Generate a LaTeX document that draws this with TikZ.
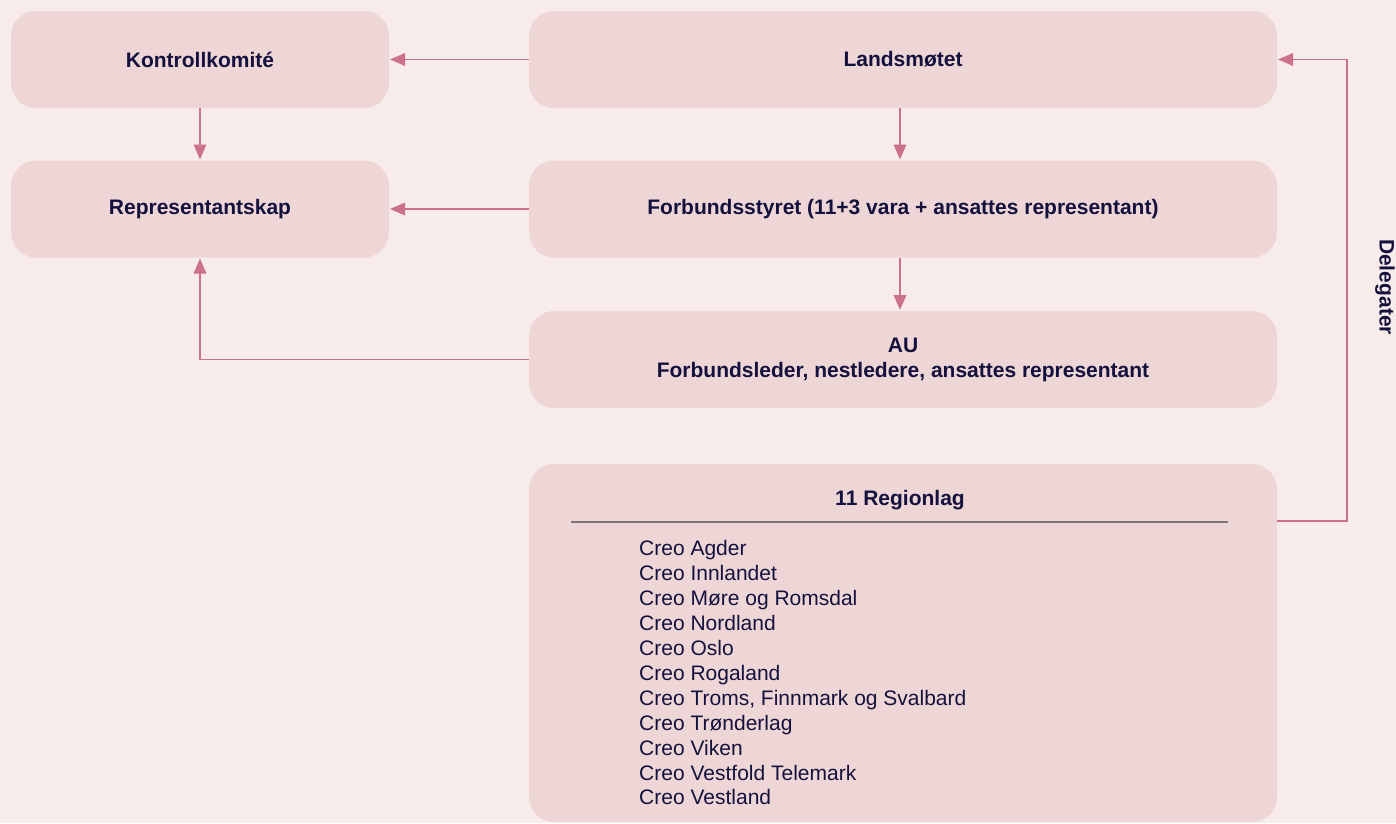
\documentclass[tikz,border=0pt]{standalone}
\usepackage{fontspec}
\setmainfont{Liberation Sans}
\usetikzlibrary{arrows.meta}
\definecolor{bg}{RGB}{247,236,234}
\definecolor{boxc}{RGB}{237,214,213}
\definecolor{arrc}{RGB}{204,113,140}
\definecolor{txt}{RGB}{20,17,62}
\definecolor{sepc}{RGB}{125,115,120}
\begin{document}
\begin{tikzpicture}[x=1pt,y=-1pt,
 box/.style={fill=boxc, rounded corners=25pt, minimum height=97pt, inner sep=0pt,
   font=\fontsize{21}{25}\selectfont\bfseries, text=txt, align=center},
 smallbox/.style={box, minimum width=378pt},
 widebox/.style={box, minimum width=748pt},
 arr/.style={draw=arrc, line width=1.8pt, -{Triangle[length=15pt,width=12.5pt]}, shorten >=0.8pt},
 item/.style={anchor=base west, inner sep=0pt, font=\fontsize{21}{25}\selectfont, text=txt},
 title/.style={inner sep=0pt, font=\fontsize{21}{25}\selectfont\bfseries, text=txt},
]
\fill[bg] (0,0) rectangle (1396,823);
\useasboundingbox (0,0) rectangle (1396,823);

\node[smallbox] (kk) at (200,59.5) {Kontrollkomité};
\node[widebox] (lm) at (903,59.5) {Landsmøtet};
\node[smallbox] (rep) at (200,209) {Representantskap};
\node[widebox] (fs) at (903,209) {Forbundsstyret (11+3 vara + ansattes representant)};
\node[widebox] (au) at (903,359.5) {AU\\Forbundsleder, nestledere, ansattes representant};
\node[widebox, minimum height=358pt] (reg) at (903,643) {};
\node[title] (regt) at (900,500) {11 Regionlag};
\draw[sepc, line width=1.2pt] (571,522) -- (1228,522);
\foreach \t [count=\i] in {Creo Agder, Creo Innlandet, Creo Møre og Romsdal, Creo Nordland, Creo Oslo, Creo Rogaland, {Creo Troms, Finnmark og Svalbard}, Creo Trønderlag, Creo Viken, Creo Vestfold Telemark, Creo Vestland}
  \node[item] (r\i) at (639,531+24.9*\i) {\t};

\node[title, rotate=-90] (del) at (1385,287) {Delegater};

\draw[arr] (lm.west) -- (kk.east);
\draw[arr] (fs.west) -- (rep.east);
\draw[arr] (kk.south) -- (rep.north);
\draw[arr] ([xshift=-3pt]lm.south) -- ([xshift=-3pt]fs.north);
\draw[arr] ([xshift=-3pt]fs.south) -- ([xshift=-3pt]au.north);
\draw[arr] (au.west) -| (rep.south);
\draw[arr] ([yshift=122pt]reg.east) -- ++(70,0) |- (lm.east);
\end{tikzpicture}
\end{document}
